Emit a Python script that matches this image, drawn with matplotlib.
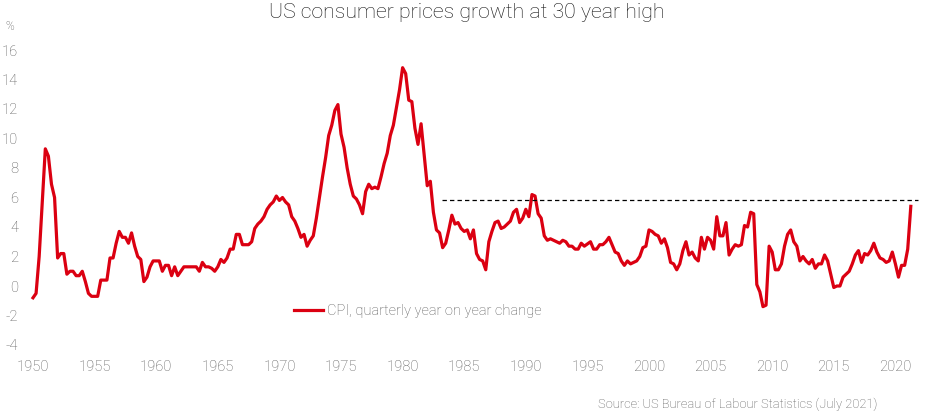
import matplotlib
matplotlib.use("Agg")
import matplotlib.pyplot as plt
import numpy as np

# Quarterly CPI year-on-year change (%), 1950 Q1 .. 2021 Q2
cpi_by_year = {
    1950: [-0.8, -0.5, 2.0, 5.6],
    1951: [9.3, 8.8, 6.9, 6.0],
    1952: [1.9, 2.2, 2.2, 0.8],
    1953: [1.0, 1.0, 0.7, 0.7],
    1954: [1.0, 0.3, -0.5, -0.7],
    1955: [-0.7, -0.7, 0.4, 0.4],
    1956: [0.4, 1.9, 1.9, 2.9],
    1957: [3.7, 3.3, 3.3, 2.9],
    1958: [3.6, 2.7, 2.0, 1.8],
    1959: [0.3, 0.6, 1.3, 1.7],
    1960: [1.7, 1.7, 1.0, 1.4],
    1961: [1.4, 0.7, 1.3, 0.7],
    1962: [1.0, 1.3, 1.3, 1.3],
    1963: [1.3, 1.3, 1.0, 1.6],
    1964: [1.3, 1.3, 1.2, 1.0],
    1965: [1.3, 1.8, 1.6, 1.9],
    1966: [2.5, 2.5, 3.5, 3.5],
    1967: [2.8, 2.8, 2.8, 3.0],
    1968: [3.9, 4.2, 4.4, 4.7],
    1969: [5.2, 5.5, 5.7, 6.1],
    1970: [5.8, 6.0, 5.7, 5.5],
    1971: [4.7, 4.4, 3.9, 3.3],
    1972: [3.5, 2.7, 3.1, 3.4],
    1973: [4.6, 6.0, 7.4, 8.7],
    1974: [10.2, 10.9, 11.9, 12.3],
    1975: [10.3, 9.4, 8.0, 6.9],
    1976: [6.1, 5.9, 5.5, 4.9],
    1977: [6.4, 6.9, 6.6, 6.7],
    1978: [6.6, 7.4, 8.3, 9.0],
    1979: [10.2, 10.9, 12.1, 13.3],
    1980: [14.8, 14.4, 12.6, 12.5],
    1981: [10.7, 9.6, 11.0, 8.9],
    1982: [6.8, 7.1, 5.0, 3.8],
    1983: [3.6, 2.6, 2.9, 3.8],
    1984: [4.8, 4.2, 4.3, 3.9],
    1985: [3.7, 3.8, 3.2, 3.8],
    1986: [2.2, 1.8, 1.7, 1.1],
    1987: [3.0, 3.7, 4.3, 4.4],
    1988: [3.9, 4.0, 4.2, 4.4],
    1989: [5.0, 5.2, 4.3, 4.6],
    1990: [5.2, 4.7, 6.2, 6.1],
    1991: [4.9, 4.6, 3.4, 3.1],
    1992: [3.2, 3.1, 3.0, 2.9],
    1993: [3.1, 3.0, 2.7, 2.7],
    1994: [2.5, 2.5, 2.9, 2.7],
    1995: [2.85, 3.0, 2.5, 2.5],
    1996: [2.8, 2.8, 3.0, 3.3],
    1997: [2.8, 2.3, 2.2, 1.7],
    1998: [1.4, 1.7, 1.5, 1.6],
    1999: [1.7, 2.0, 2.6, 2.7],
    2000: [3.8, 3.7, 3.5, 3.4],
    2001: [2.9, 3.2, 2.6, 1.6],
    2002: [1.5, 1.1, 1.5, 2.4],
    2003: [3.0, 2.1, 2.3, 1.9],
    2004: [1.7, 3.3, 2.5, 3.3],
    2005: [3.1, 2.5, 4.7, 3.4],
    2006: [3.4, 4.3, 2.1, 2.5],
    2007: [2.8, 2.7, 2.8, 4.1],
    2008: [4.0, 5.0, 4.9, 0.1],
    2009: [-0.4, -1.4, -1.3, 2.7],
    2010: [2.3, 1.1, 1.1, 1.5],
    2011: [2.7, 3.5, 3.8, 3.0],
    2012: [2.7, 1.7, 2.0, 1.7],
    2013: [1.5, 1.8, 1.2, 1.5],
    2014: [1.5, 2.1, 1.7, 0.8],
    2015: [-0.1, 0.0, 0.0, 0.6],
    2016: [0.8, 1.0, 1.5, 2.1],
    2017: [2.4, 1.6, 2.2, 2.1],
    2018: [2.4, 2.9, 2.3, 1.9],
    2019: [1.8, 1.6, 1.7, 2.3],
    2020: [1.5, 0.6, 1.4, 1.4],
    2021: [2.5, 5.4],
}

years = sorted(cpi_by_year)
dates = [y + q / 4 for y in years for q in range(len(cpi_by_year[y]))]
values = [v for y in years for v in cpi_by_year[y]]

ref_level = 5.8
ref_start, ref_end = 1983.2, 2021.8

yticks = list(range(-4, 17, 2))
xticks = list(range(1950, 2021, 5))

title = "US consumer prices growth at 30 year high"
legend_label = "CPI, quarterly year on year change"
source = "Source: US Bureau of Labour Statistics (July 2021)"

RED = "#DB0011"
GREY = "#5A5A5A"
FONT = ["Roboto", "Liberation Sans", "DejaVu Sans"]
plt.rcParams["font.family"] = FONT
plt.rcParams["font.weight"] = "light"

W, H = 927, 413
fig = plt.figure(figsize=(W / 100, H / 100), dpi=100)

px_per_year = 12.32
x0_px = 33  # pixel of 1950
left_px, right_px = 25, 920
top_px, bottom_px = 50, 345
ax = fig.add_axes([left_px / W, 1 - bottom_px / H,
                   (right_px - left_px) / W, (bottom_px - top_px) / H])
ax.set_xlim(1950 + (left_px - x0_px) / px_per_year,
            1950 + (right_px - x0_px) / px_per_year)
ax.set_ylim(-4, 16)

line, = ax.plot(dates, values, color=RED, lw=2.3, solid_joinstyle="round",
                label=legend_label, clip_on=False)
ax.plot([ref_start, ref_end], [ref_level, ref_level], color="black",
        lw=0.9, ls=(0, (3.5, 2.5)))

for s in ax.spines.values():
    s.set_visible(False)
ax.set_yticks(yticks)
ax.set_yticklabels([str(t) for t in yticks])
ax.set_xticks(xticks)
ax.set_xticklabels([str(t) for t in xticks])
ax.tick_params(axis="both", length=0, labelsize=10.6, colors=GREY)
ax.tick_params(axis="y", pad=5)
ax.tick_params(axis="x", pad=11)

fig.text(467 / W, 1 - 13 / H, title, ha="center", va="center",
         fontsize=15.3, color="#111111")
fig.text(5 / W, 1 - 26 / H, "%", ha="left", va="center", fontsize=8.5,
         color=GREY)
fig.text(877 / W, 1 - 404 / H, source, ha="right", va="center",
         fontsize=9.3, color=GREY)

leg = ax.legend(handles=[line], loc="upper left",
                bbox_to_anchor=((288 - left_px) / (right_px - left_px),
                                (bottom_px - 298) / (bottom_px - top_px)),
                frameon=False, fontsize=10.5, handlelength=2.0,
                handletextpad=0.3, borderaxespad=0)
for t in leg.get_texts():
    t.set_color(GREY)

fig.savefig("out.png", dpi=100)
